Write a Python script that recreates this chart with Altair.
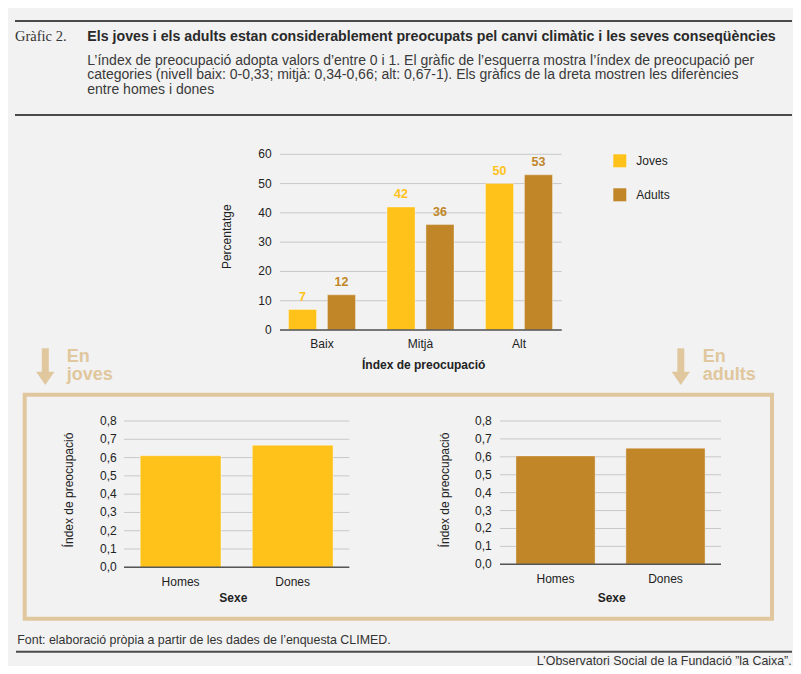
import altair as alt
import pandas as pd

# ---------------- data ----------------
nivells = ["Baix", "Mitjà", "Alt"]
grups = ["Joves", "Adults"]
joves_pct = [7, 42, 50]
adults_pct = [12, 36, 53]
sexes = ["Homes", "Dones"]
joves_index = [0.61, 0.667]
adults_index = [0.605, 0.648]
ticks_pct = [0, 10, 20, 30, 40, 50, 60]
ticks_pct_labels = ["0", "10", "20", "30", "40", "50", "60"]
ticks_idx = [0.0, 0.1, 0.2, 0.3, 0.4, 0.5, 0.6, 0.7, 0.8]
ticks_idx_labels = ["0,0", "0,1", "0,2", "0,3", "0,4", "0,5", "0,6", "0,7", "0,8"]

title_txt = "Els joves i els adults estan considerablement preocupats pel canvi climàtic i les seves conseqüències"
sub_lines = [
    "L’índex de preocupació adopta valors d’entre 0 i 1. El gràfic de l’esquerra mostra l’índex de preocupació per",
    "categories (nivell baix: 0-0,33; mitjà: 0,34-0,66; alt: 0,67-1). Els gràfics de la dreta mostren les diferències",
    "entre homes i dones",
]
source_txt = "Font: elaboració pròpia a partir de les dades de l’enquesta CLIMED."
credit_txt = "L’Observatori Social de la Fundació ”la Caixa”."

# ---------------- style ----------------
C_JOVES = "#FFC21A"
C_ADULTS = "#C08628"
C_BEIGE = "#E0C79D"
C_GRID = "#C8C8C8"
C_AXIS = "#555555"
C_TEXT = "#222222"
BG = "#F2F2F2"
NARROW = "Liberation Sans Narrow, Arial Narrow, sans-serif"
SANS = "Liberation Sans, Arial, sans-serif"
SERIF = "Liberation Serif, Times New Roman, serif"

dummy = pd.DataFrame({"d": [0]})


def txt(t, x, y, size=12, font=SANS, weight="normal", color=C_TEXT, align="left",
        baseline="middle", angle=0):
    return alt.Chart(dummy).mark_text(
        text=t, font=font, fontSize=size, fontWeight=weight, color=color,
        align=align, baseline=baseline, angle=angle
    ).encode(x=alt.value(x), y=alt.value(y))


def hrule(x1, x2, y, color="#4a4a4a", w=2):
    return alt.Chart(dummy).mark_rule(color=color, strokeWidth=w).encode(
        x=alt.value(x1), x2=alt.value(x2), y=alt.value(y))


# ---------------- top grouped bar chart ----------------
df_top = pd.DataFrame({
    "Nivell": nivells * 2,
    "Grup": ["Joves"] * len(nivells) + ["Adults"] * len(nivells),
    "Pct": joves_pct + adults_pct,
})
df_tp = pd.DataFrame({"v": ticks_pct, "lab": ticks_pct_labels})
df_niv = pd.DataFrame({"Nivell": nivells})

xs_top = alt.Scale(domain=nivells, range=[264.75, 560.25], paddingInner=0.32, paddingOuter=0.16)
ys_top = alt.Scale(domain=[0, 60], range=[322, 146.3], nice=False, zero=True)
xo_top = alt.Scale(domain=grups, paddingInner=0.28, paddingOuter=0)
col_top = alt.Scale(domain=grups, range=[C_JOVES, C_ADULTS])

top_grid = alt.Chart(df_tp).mark_rule(color=C_GRID, strokeWidth=1).encode(
    y=alt.Y("v:Q", scale=ys_top, axis=None), x=alt.value(272), x2=alt.value(553.7))
top_ticks = alt.Chart(df_tp).mark_text(
    align="right", baseline="middle", font=SANS, fontSize=12, color=C_TEXT).encode(
    y=alt.Y("v:Q", scale=ys_top, axis=None), x=alt.value(263.7), text="lab:N")
top_bars = alt.Chart(df_top).mark_bar(stroke="#FFFFFF", strokeOpacity=0.35, strokeWidth=1).encode(
    x=alt.X("Nivell:N", scale=xs_top, axis=None, sort=nivells),
    xOffset=alt.XOffset("Grup:N", scale=xo_top, sort=grups),
    y=alt.Y("Pct:Q", scale=ys_top, axis=None),
    color=alt.Color("Grup:N", scale=col_top, sort=grups, legend=alt.Legend(
        title=None, orient="none", legendX=605.3, legendY=146.3, symbolType="square",
        symbolSize=169, symbolStrokeWidth=0, labelFont=SANS, labelFontSize=12,
        labelColor=C_TEXT, labelOffset=10, rowPadding=21, padding=0, direction="vertical")),
)
top_base = alt.Chart(df_tp).transform_filter("datum.v == 0").mark_rule(
    color=C_AXIS, strokeWidth=1.5).encode(
    y=alt.Y("v:Q", scale=ys_top, axis=None), x=alt.value(272), x2=alt.value(553.7))
top_vals = alt.Chart(df_top).mark_text(
    baseline="alphabetic", dy=-9, font=SANS, fontSize=12.5, fontWeight="bold").encode(
    x=alt.X("Nivell:N", scale=xs_top, axis=None, sort=nivells),
    xOffset=alt.XOffset("Grup:N", scale=xo_top, sort=grups),
    y=alt.Y("Pct:Q", scale=ys_top, axis=None),
    color=alt.Color("Grup:N", scale=col_top, legend=None),
    text="Pct:Q",
)
top_cats = alt.Chart(df_niv).mark_text(
    baseline="middle", font=SANS, fontSize=12, color=C_TEXT).encode(
    x=alt.X("Nivell:N", scale=xs_top, axis=None, sort=nivells), y=alt.value(336), text="Nivell:N")

top_chart = alt.layer(top_grid, top_ticks, top_bars, top_base, top_vals, top_cats)


# ---------------- bottom index charts ----------------
def index_chart(values, color, xr, yr, grid_x, tick_x, cat_y):
    df = pd.DataFrame({"Sexe": sexes, "Index": values})
    df_ti = pd.DataFrame({"v": ticks_idx, "lab": ticks_idx_labels})
    xs = alt.Scale(domain=sexes, range=xr, paddingInner=0.28, paddingOuter=0.145)
    ys = alt.Scale(domain=[0, 0.8], range=yr, nice=False, zero=True)
    grid = alt.Chart(df_ti).mark_rule(color=C_GRID, strokeWidth=1).encode(
        y=alt.Y("v:Q", scale=ys, axis=None), x=alt.value(grid_x[0]), x2=alt.value(grid_x[1]))
    ticks = alt.Chart(df_ti).mark_text(
        align="right", baseline="middle", font=SANS, fontSize=12, color=C_TEXT).encode(
        y=alt.Y("v:Q", scale=ys, axis=None), x=alt.value(tick_x), text="lab:N")
    bars = alt.Chart(df).mark_bar(color=color, stroke="#FFFFFF", strokeOpacity=0.35, strokeWidth=1).encode(
        x=alt.X("Sexe:N", scale=xs, axis=None, sort=sexes),
        y=alt.Y("Index:Q", scale=ys, axis=None))
    base = alt.Chart(df_ti).transform_filter("datum.v == 0").mark_rule(
        color=C_AXIS, strokeWidth=1.5).encode(
        y=alt.Y("v:Q", scale=ys, axis=None), x=alt.value(grid_x[0]), x2=alt.value(grid_x[1]))
    cats = alt.Chart(df).mark_text(baseline="middle", font=SANS, fontSize=12, color=C_TEXT).encode(
        x=alt.X("Sexe:N", scale=xs, axis=None, sort=sexes), y=alt.value(cat_y), text="Sexe:N")
    return alt.layer(grid, ticks, bars, base, cats)


left_chart = index_chart(joves_index, C_JOVES, [116, 341.3], [559.3, 413],
                         (116, 341.3), 108.7, 573.7)
right_chart = index_chart(adults_index, C_ADULTS, [492, 713], [556.3, 413],
                          (492, 713), 483.7, 570.7)

# ---------------- decorations ----------------
arrow_path = "M-1,-0.72L1,-0.72L0,0.72Z"


def arrow(x):
    shaft = alt.Chart(dummy).mark_rule(color=C_BEIGE, strokeWidth=7).encode(
        x=alt.value(x), y=alt.value(340.3), y2=alt.value(364.5))
    head = alt.Chart(dummy).mark_point(
        shape=arrow_path, size=335, filled=True, fill=C_BEIGE, strokeWidth=0, opacity=1).encode(
        x=alt.value(x), y=alt.value(370.35))
    return [shaft, head]


box = alt.Chart(dummy).mark_rect(fillOpacity=0, stroke=C_BEIGE, strokeWidth=4).encode(
    x=alt.value(16.7), x2=alt.value(764), y=alt.value(386.7), y2=alt.value(610.7))

deco = [
    hrule(7, 784, 13),
    txt("Gràfic 2.", 7, 28.7, size=14.5, font=SERIF, color="#333333"),
    txt(title_txt, 79.3, 28.7, size=14.2, font=NARROW, weight="bold", color="#2a2a2a"),
    txt(sub_lines[0], 79.3, 52.5, size=14, font=NARROW, color="#3a3a3a"),
    txt(sub_lines[1], 79.3, 67.0, size=14, font=NARROW, color="#3a3a3a"),
    txt(sub_lines[2], 79.3, 81.5, size=14, font=NARROW, color="#3a3a3a"),
    hrule(7, 784, 107),
    # top chart titles
    txt("Percentatge", 218.7, 228.7, size=12, align="center", angle=270),
    txt("Índex de preocupació", 415.7, 357, size=12, weight="bold", align="center"),
    # bottom chart titles
    txt("Índex de preocupació", 61.3, 482, size=12, align="center", angle=270),
    txt("Sexe", 225.3, 589.7, size=12, weight="bold", align="center"),
    txt("Índex de preocupació", 437, 482, size=12, align="center", angle=270),
    txt("Sexe", 603.7, 589.7, size=12, weight="bold", align="center"),
    box,
    *arrow(37.3),
    *arrow(672.8),
    txt("En", 58.7, 353.7, size=18, font=NARROW, weight="bold", color=C_BEIGE, baseline="alphabetic"),
    txt("joves", 58.7, 372, size=18, font=NARROW, weight="bold", color=C_BEIGE, baseline="alphabetic"),
    txt("En", 694.7, 353.7, size=18, font=NARROW, weight="bold", color=C_BEIGE, baseline="alphabetic"),
    txt("adults", 694.7, 372, size=18, font=NARROW, weight="bold", color=C_BEIGE, baseline="alphabetic"),
    # footer
    txt(source_txt, 9.3, 632, size=12.4, font=NARROW, color="#333333"),
    hrule(8, 784, 643.8),
    txt(credit_txt, 783.7, 656.5, size=12.4, font=NARROW, color="#333333", align="right",
        baseline="alphabetic"),
]

chart = alt.layer(*deco, top_chart, left_chart, right_chart).resolve_scale(
    x="independent", y="independent", color="independent", xOffset="independent"
).properties(
    width=785, height=658, background=BG, padding=0,
    autosize=alt.AutoSizeParams(type="none"),
).configure_view(strokeWidth=0)

chart.save("out.html", embed_options={"renderer": "svg", "actions": False})
